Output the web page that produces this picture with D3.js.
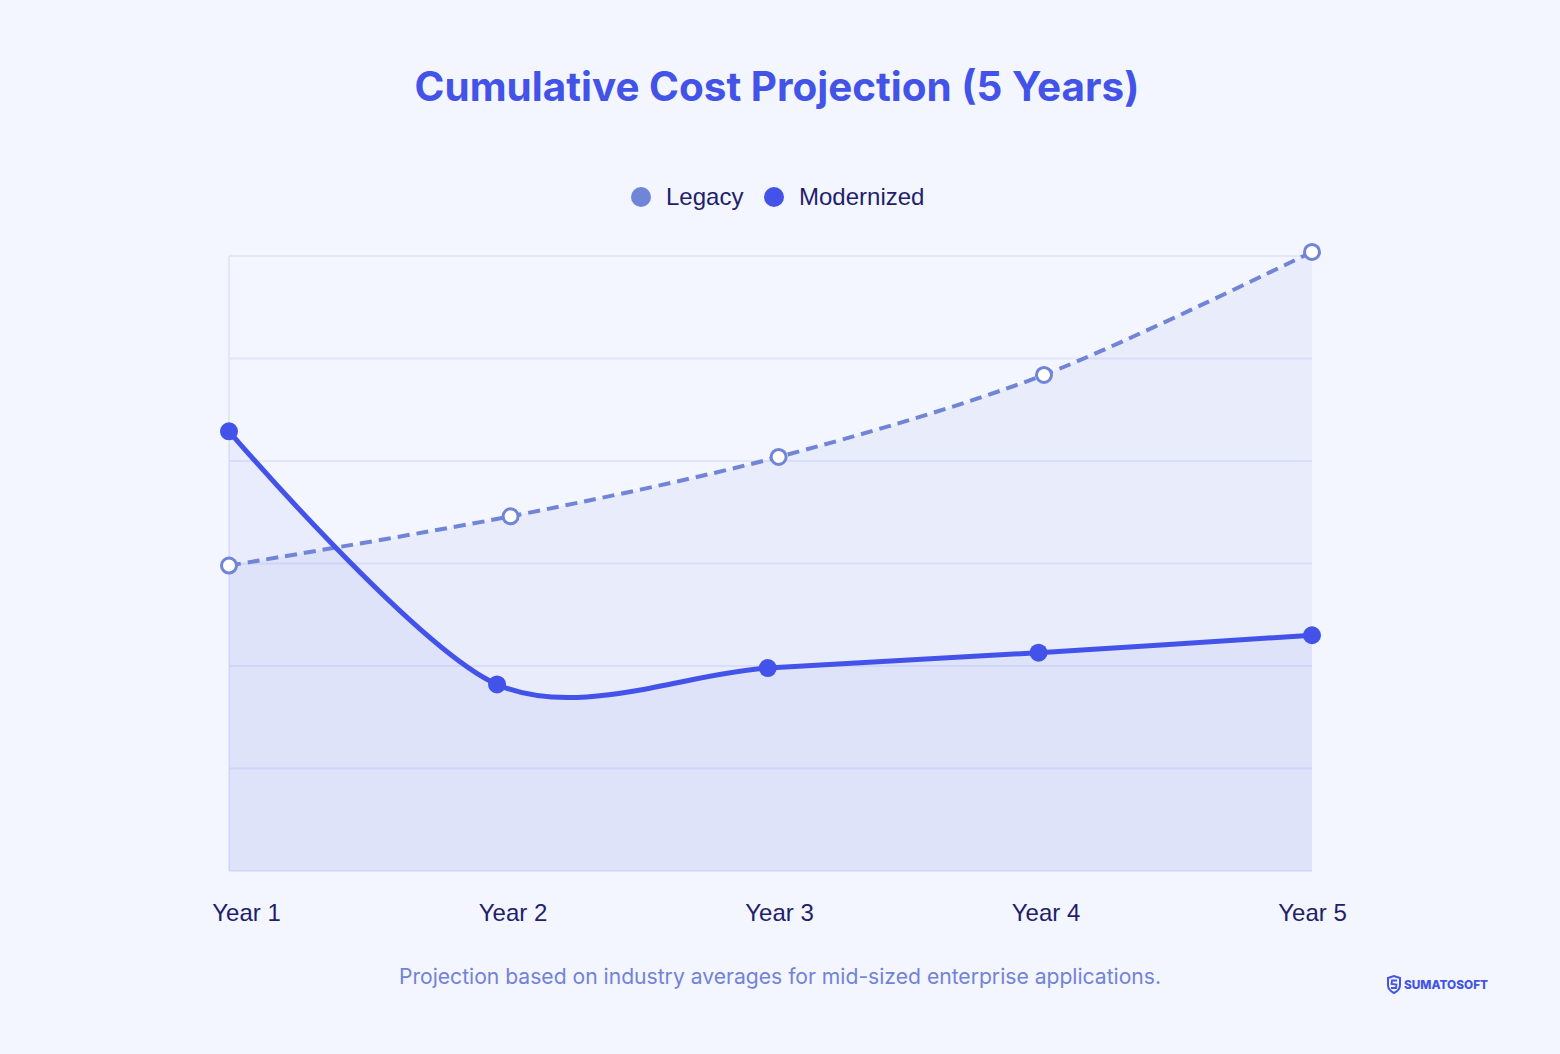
<!DOCTYPE html>
<html>
<head>
<meta charset="utf-8">
<script src="https://cdn.jsdelivr.net/npm/d3@7"></script>
<style>
  html, body { margin: 0; padding: 0; background: #f3f6fe; }
  svg { display: block; }
</style>
</head>
<body>
<svg id="chart" width="1560" height="1054"></svg>
<script>
// data (cost units, gridline every 10)
const years = ["Year 1", "Year 2", "Year 3", "Year 4", "Year 5"];
const legacyValues = [29.8, 34.6, 40.4, 48.4, 60.4];
const modernValues = [42.9, 18.2, 19.8, 21.3, 23.0];
// the two series sit at slightly different x positions in the source (in years from start)
const legacyPos = [0, 1.04, 2.03, 3.01, 4];
const modernPos = [0, 0.99, 1.99, 2.99, 4];
const gridValues = [0, 10, 20, 30, 40, 50, 60];

const svg = d3.select("#chart");
const plotLeft = 229, plotRight = 1312, plotTop = 256, plotBottom = 871;

const legacyColor = "#7084d8";
const modernColor = "#4353ea";
const navy = "#221e6c";
const labelFont = "'Liberation Sans', Arial, sans-serif";

const x = d3.scaleLinear().domain([0, 4]).range([plotLeft, plotRight]);
const y = d3.scaleLinear().domain([0, 60]).range([plotBottom, plotTop]);
const xLabel = d3.scalePoint().domain(years).range([246, 1312]);

// fit a text node to the width measured in the reference
function fitWidth(sel, size, width) {
  const w = sel.node().getComputedTextLength();
  sel.style("font-size", (size * width / w).toFixed(2) + "px");
}

// title
const title = svg.append("text")
  .attr("x", 777).attr("y", 101)
  .attr("text-anchor", "middle")
  .style("font-family", "Inter, 'Noto Sans', sans-serif")
  .style("font-weight", 700)
  .style("font-size", "40px")
  .attr("fill", "#4353e8")
  .text("Cumulative Cost Projection (5 Years)");
fitWidth(title, 40, 725);

// legend
const legend = svg.append("g").style("font-family", labelFont).style("font-size", "24px");
const legendItems = [{ name: "Legacy", color: legacyColor, cx: 641 }, { name: "Modernized", color: modernColor, cx: 774 }];
legendItems.forEach(d => {
  legend.append("circle").attr("cx", d.cx).attr("cy", 197).attr("r", 10).attr("fill", d.color);
  legend.append("text").attr("x", d.cx + 25).attr("y", 205).attr("fill", navy).text(d.name);
});

// grid
const g = svg.append("g");
g.selectAll(".grid")
  .data(gridValues)
  .enter()
  .append("line")
  .attr("x1", plotLeft).attr("x2", plotRight)
  .attr("y1", d => y(d)).attr("y2", d => y(d))
  .attr("stroke", "#e1e6fa")
  .attr("stroke-width", 2);
g.append("line")
  .attr("x1", plotLeft).attr("x2", plotLeft)
  .attr("y1", plotTop).attr("y2", plotBottom)
  .attr("stroke", "#e1e6fa").attr("stroke-width", 2);

const curve = d3.curveCardinal.tension(0.1);
const legacyData = legacyValues.map((v, i) => ({ t: legacyPos[i], v }));
const modernData = modernValues.map((v, i) => ({ t: modernPos[i], v }));

const area = d3.area().x(d => x(d.t)).y0(plotBottom).y1(d => y(d.v)).curve(curve);
const line = d3.line().x(d => x(d.t)).y(d => y(d.v)).curve(curve);

g.append("path").datum(legacyData).attr("d", area).attr("fill", legacyColor).attr("fill-opacity", 0.08);
g.append("path").datum(modernData).attr("d", area).attr("fill", modernColor).attr("fill-opacity", 0.06);

g.append("path").datum(legacyData).attr("d", line)
  .attr("fill", "none").attr("stroke", legacyColor)
  .attr("stroke-width", 4).attr("stroke-dasharray", "12,7");
g.append("path").datum(modernData).attr("d", line)
  .attr("fill", "none").attr("stroke", modernColor)
  .attr("stroke-width", 5).attr("stroke-linecap", "round");

g.selectAll(".legacy-dot")
  .data(legacyData)
  .enter()
  .append("circle")
  .attr("cx", d => x(d.t)).attr("cy", d => y(d.v))
  .attr("r", 7.5)
  .attr("fill", "#ffffff").attr("stroke", legacyColor).attr("stroke-width", 3);
g.selectAll(".modern-dot")
  .data(modernData)
  .enter()
  .append("circle")
  .attr("cx", d => x(d.t)).attr("cy", d => y(d.v))
  .attr("r", 9)
  .attr("fill", modernColor);

// x axis labels
const ax = svg.append("g")
  .attr("transform", "translate(0," + plotBottom + ")")
  .call(d3.axisBottom(xLabel).tickSize(0).tickPadding(33));
ax.select(".domain").remove();
ax.selectAll("text")
  .style("font-family", labelFont)
  .style("font-size", "24px")
  .attr("fill", navy);

// footnote
const note = svg.append("text")
  .attr("x", 780).attr("y", 984)
  .attr("text-anchor", "middle")
  .style("font-family", "Inter, 'Noto Sans', sans-serif")
  .style("font-size", "20px")
  .attr("fill", "#7282d8")
  .text("Projection based on industry averages for mid-sized enterprise applications.");
fitWidth(note, 20, 762);

// logo
const logo = svg.append("g").attr("transform", "translate(1388,977)");
logo.append("path")
  .attr("d", "M0,1 L6,-1 L12,1 L12,8 Q12,13 6,16 Q0,13 0,8 Z")
  .attr("fill", "none").attr("stroke", "#4353e8").attr("stroke-width", 2);
logo.append("path")
  .attr("d", "M9,3.5 L4,3.5 L3.5,7 L8.5,7.5 L8,11 L3,11")
  .attr("fill", "none").attr("stroke", "#4353e8").attr("stroke-width", 1.8);
logo.append("text")
  .attr("x", 16).attr("y", 12)
  .style("font-family", "Inter, 'Noto Sans', sans-serif")
  .style("font-weight", 800)
  .style("font-size", "11.8px")
  .attr("fill", "#4353e8")
  .text("SUMATOSOFT");
</script>
</body>
</html>
